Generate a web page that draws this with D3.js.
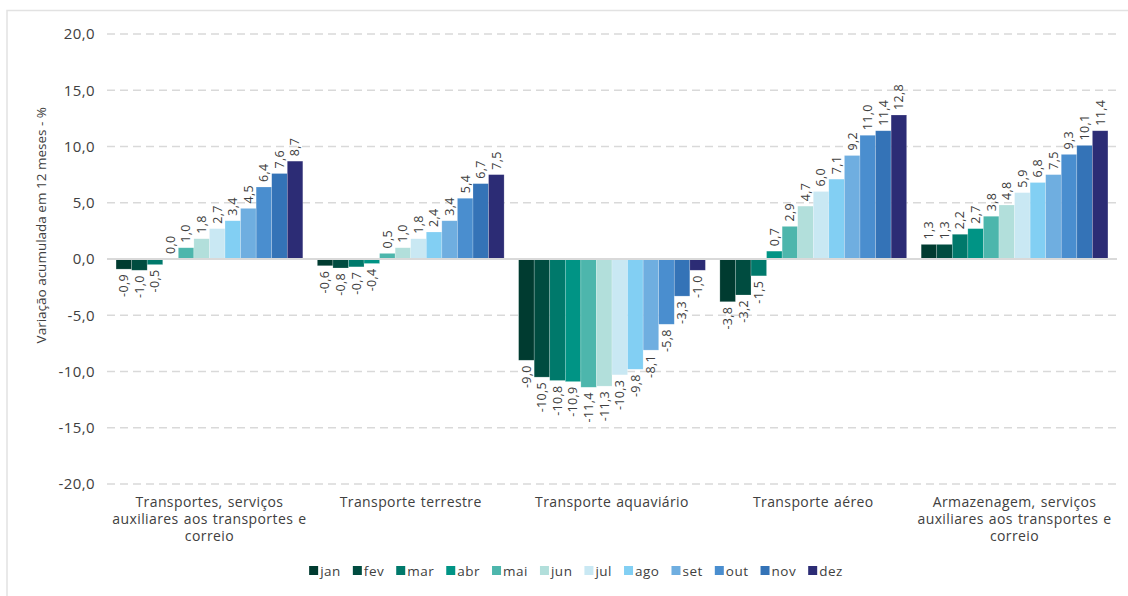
<!DOCTYPE html>
<html>
<head>
<meta charset="utf-8">
<script src="https://d3js.org/d3.v7.min.js"></script>
<style>
  body { margin: 0; background: #fff; }
  svg { display: block; font-family: "Open Sans", sans-serif; }
</style>
</head>
<body>
<svg width="1128" height="596"></svg>
<script>
// categorias e meses
const categories = [
    'Transportes, serviços auxiliares aos transportes e correio',
    'Transporte terrestre',
    'Transporte aquaviário',
    'Transporte aéreo',
    'Armazenagem, serviços auxiliares aos transportes e correio'
];
const months = ['jan', 'fev', 'mar', 'abr', 'mai', 'jun', 'jul', 'ago', 'set', 'out', 'nov', 'dez'];
const monthColors = ['#003b30', '#004c40', '#00796b', '#009485', '#4db6ac', '#b2dfdb',
                     '#c9e8f3', '#82cff3', '#6faee0', '#4a8ecf', '#3473b7', '#2c2c75'];

// variação acumulada (%) por categoria, jan..dez
const transportesTotal = [-0.9, -1.0, -0.5, 0.0, 1.0, 1.8, 2.7, 3.4, 4.5, 6.4, 7.6, 8.7];
const terrestre = [-0.6, -0.8, -0.7, -0.4, 0.5, 1.0, 1.8, 2.4, 3.4, 5.4, 6.7, 7.5];
const aquaviario = [-9.0, -10.5, -10.8, -10.9, -11.4, -11.3, -10.3, -9.8, -8.1, -5.8, -3.3, -1.0];
const aereo = [-3.8, -3.2, -1.5, 0.7, 2.9, 4.7, 6.0, 7.1, 9.2, 11.0, 11.4, 12.8];
const armazenagem = [1.3, 1.3, 2.2, 2.7, 3.8, 4.8, 5.9, 6.8, 7.5, 9.3, 10.1, 11.4];

const yTicks = [-20, -15, -10, -5, 0, 5, 10, 15, 20];

const series = [transportesTotal, terrestre, aquaviario, aereo, armazenagem];
const rows = categories.map((c, i) => ({
    cat: c,
    values: months.map((m, j) => ({ month: m, value: series[i][j] }))
}));

const svg = d3.select('svg');
const textColor = '#404040';
const fmt = v => d3.format('.1f')(v).replace('.', ',').replace('−', '-');

// moldura
svg.append('path')
    .attr('d', 'M7,596 L7,10.5 L1128,10.5')
    .attr('fill', 'none')
    .attr('stroke', '#e2e2e2')
    .attr('stroke-width', 1.5);

const x0 = d3.scaleBand()
    .domain(categories)
    .range([107, 1117])
    .paddingInner(0.072)
    .paddingOuter(0.045);

const x1 = d3.scaleBand()
    .domain(months)
    .range([0, x0.bandwidth()]);

const y = d3.scaleLinear().domain([-20, 20]).range([484, 34]);

const color = d3.scaleOrdinal().domain(months).range(monthColors);

// grade
svg.append('g')
    .selectAll('line')
    .data(yTicks.filter(t => t !== 0))
    .join('line')
        .attr('x1', 107)
        .attr('x2', 1117)
        .attr('y1', d => y(d))
        .attr('y2', d => y(d))
        .attr('stroke', '#d9d9d9')
        .attr('stroke-width', 1.3)
        .attr('stroke-dasharray', '8,5');

// eixo y
const yAxis = svg.append('g')
    .attr('transform', 'translate(95,0)')
    .call(d3.axisLeft(y).tickValues(yTicks).tickSize(0).tickPadding(0).tickFormat(fmt));
yAxis.select('.domain').remove();
yAxis.selectAll('text')
    .attr('font-size', 15)
    .attr('letter-spacing', 0.4)
    .attr('font-family', '"Open Sans", sans-serif')
    .attr('fill', textColor);

svg.append('text')
    .attr('transform', 'translate(46,' + y(3) + ') rotate(-90)')
    .attr('text-anchor', 'middle')
    .attr('font-size', 13.5)
    .attr('fill', textColor)
    .text('Variação acumulada em 12 meses - %');

// barras
const groups = svg.append('g')
    .selectAll('g')
    .data(rows)
    .join('g')
        .attr('transform', d => `translate(${x0(d.cat)},0)`);

groups.selectAll('rect')
    .data(d => d.values)
    .join('rect')
        .attr('x', d => x1(d.month))
        .attr('width', x1.bandwidth())
        .attr('y', d => y(Math.max(0, d.value)))
        .attr('height', d => Math.abs(y(d.value) - y(0)))
        .attr('fill', d => color(d.month))
        .attr('stroke', 'rgba(255,255,255,0.35)')
        .attr('stroke-width', 0.6);

groups.selectAll('text')
    .data(d => d.values)
    .join('text')
        .attr('transform', d => {
            const cx = x1(d.month) + x1.bandwidth() / 2;
            const cy = d.value >= 0 ? y(d.value) - 5 : y(d.value) + 5;
            return `translate(${cx},${cy}) rotate(-90)`;
        })
        .attr('text-anchor', d => d.value >= 0 ? 'start' : 'end')
        .attr('dy', '0.35em')
        .attr('font-size', 12.5)
        .attr('letter-spacing', 0.3)
        .attr('fill', textColor)
        .text(d => fmt(d.value));

// linha do zero
svg.append('line')
    .attr('x1', 107)
    .attr('x2', 1117)
    .attr('y1', y(0))
    .attr('y2', y(0))
    .attr('stroke', '#d9d9d9')
    .attr('stroke-width', 2);

// rótulos das categorias
const wrap = (textSel, width) => {
    textSel.each(function () {
        const text = d3.select(this);
        const words = text.text().split(/\s+/);
        const cx = text.attr('x');
        text.text(null);
        let line = [];
        let tspan = text.append('tspan').attr('x', cx).attr('dy', 0);
        words.forEach(w => {
            line.push(w);
            tspan.text(line.join(' '));
            if (tspan.node().getComputedTextLength() > width && line.length > 1) {
                line.pop();
                tspan.text(line.join(' '));
                line = [w];
                tspan = text.append('tspan').attr('x', cx).attr('dy', '1.2em').text(w);
            }
        });
    });
};

svg.append('g')
    .selectAll('text')
    .data(categories)
    .join('text')
        .attr('x', d => x0(d) + x0.bandwidth() / 2)
        .attr('y', 507)
        .attr('text-anchor', 'middle')
        .attr('font-size', 14)
        .attr('letter-spacing', 0.4)
        .attr('word-spacing', 1)
        .attr('fill', textColor)
        .text(d => d)
        .call(wrap, 200);

// legenda
const legend = svg.append('g');
const items = legend.selectAll('g')
    .data(months)
    .join('g');
items.append('rect')
    .attr('width', 9)
    .attr('height', 9)
    .attr('y', -5)
    .attr('fill', d => color(d));
items.append('text')
    .attr('x', 11)
    .attr('dy', '0.35em')
    .attr('font-size', 13.5)
    .attr('letter-spacing', 0.5)
    .attr('fill', textColor)
    .text(d => d);

let lx = 0;
items.each(function () {
    const w = 11 + d3.select(this).select('text').node().getComputedTextLength();
    d3.select(this).attr('transform', `translate(${lx},0)`);
    lx += w + 12;
});
lx -= 12;
legend.attr('transform', `translate(${576 - lx / 2},571)`);
</script>
</body>
</html>
